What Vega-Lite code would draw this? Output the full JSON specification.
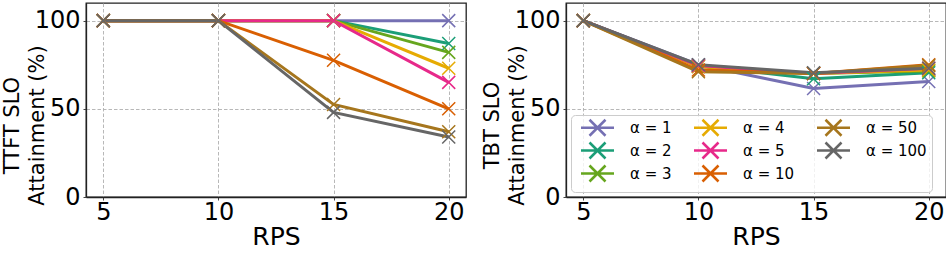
{
  "$schema": "https://vega.github.io/schema/vega-lite/v6.json",
  "padding": {"top": 2, "left": 0, "right": 3, "bottom": 0},
  "background": "white",
  "spacing": 13,
  "config": {
    "font": "DejaVu Sans",
    "view": {"stroke": "#222222", "strokeWidth": 1.3},
    "axis": {
      "domainColor": "#222222", "domainWidth": 1.3,
      "gridColor": "#b0b0b0", "gridDash": [3.5, 2], "gridWidth": 0.9,
      "tickColor": "#444444", "tickSize": 3,
      "labelFont": "DejaVu Sans", "labelFontSize": 24, "labelColor": "#000000",
      "titleFont": "DejaVu Sans", "titleFontWeight": "normal", "titleColor": "#000000"
    },
    "legend": {
      "labelFont": "DejaVu Sans", "labelFontSize": 15, "labelColor": "#000000"
    }
  },
  "datasets": {
    "ttft": [
      {"rps": 5, "alpha": "α = 1", "v": 100}, {"rps": 10, "alpha": "α = 1", "v": 100}, {"rps": 15, "alpha": "α = 1", "v": 100}, {"rps": 20, "alpha": "α = 1", "v": 100},
      {"rps": 5, "alpha": "α = 2", "v": 100}, {"rps": 10, "alpha": "α = 2", "v": 100}, {"rps": 15, "alpha": "α = 2", "v": 100}, {"rps": 20, "alpha": "α = 2", "v": 87},
      {"rps": 5, "alpha": "α = 3", "v": 100}, {"rps": 10, "alpha": "α = 3", "v": 100}, {"rps": 15, "alpha": "α = 3", "v": 100}, {"rps": 20, "alpha": "α = 3", "v": 82},
      {"rps": 5, "alpha": "α = 4", "v": 100}, {"rps": 10, "alpha": "α = 4", "v": 100}, {"rps": 15, "alpha": "α = 4", "v": 100}, {"rps": 20, "alpha": "α = 4", "v": 73},
      {"rps": 5, "alpha": "α = 5", "v": 100}, {"rps": 10, "alpha": "α = 5", "v": 100}, {"rps": 15, "alpha": "α = 5", "v": 100}, {"rps": 20, "alpha": "α = 5", "v": 65},
      {"rps": 5, "alpha": "α = 10", "v": 100}, {"rps": 10, "alpha": "α = 10", "v": 100}, {"rps": 15, "alpha": "α = 10", "v": 77.5}, {"rps": 20, "alpha": "α = 10", "v": 50},
      {"rps": 5, "alpha": "α = 50", "v": 100}, {"rps": 10, "alpha": "α = 50", "v": 100}, {"rps": 15, "alpha": "α = 50", "v": 52.5}, {"rps": 20, "alpha": "α = 50", "v": 37},
      {"rps": 5, "alpha": "α = 100", "v": 100}, {"rps": 10, "alpha": "α = 100", "v": 100}, {"rps": 15, "alpha": "α = 100", "v": 48}, {"rps": 20, "alpha": "α = 100", "v": 34}
    ],
    "tbt": [
      {"rps": 5, "alpha": "α = 1", "v": 100}, {"rps": 10, "alpha": "α = 1", "v": 75}, {"rps": 15, "alpha": "α = 1", "v": 61.5}, {"rps": 20, "alpha": "α = 1", "v": 65.5},
      {"rps": 5, "alpha": "α = 2", "v": 100}, {"rps": 10, "alpha": "α = 2", "v": 74.5}, {"rps": 15, "alpha": "α = 2", "v": 67}, {"rps": 20, "alpha": "α = 2", "v": 70.5},
      {"rps": 5, "alpha": "α = 3", "v": 100}, {"rps": 10, "alpha": "α = 3", "v": 74}, {"rps": 15, "alpha": "α = 3", "v": 70}, {"rps": 20, "alpha": "α = 3", "v": 71.5},
      {"rps": 5, "alpha": "α = 4", "v": 100}, {"rps": 10, "alpha": "α = 4", "v": 74}, {"rps": 15, "alpha": "α = 4", "v": 70}, {"rps": 20, "alpha": "α = 4", "v": 72},
      {"rps": 5, "alpha": "α = 5", "v": 100}, {"rps": 10, "alpha": "α = 5", "v": 74.5}, {"rps": 15, "alpha": "α = 5", "v": 70}, {"rps": 20, "alpha": "α = 5", "v": 73},
      {"rps": 5, "alpha": "α = 10", "v": 100}, {"rps": 10, "alpha": "α = 10", "v": 72}, {"rps": 15, "alpha": "α = 10", "v": 70}, {"rps": 20, "alpha": "α = 10", "v": 75},
      {"rps": 5, "alpha": "α = 50", "v": 100}, {"rps": 10, "alpha": "α = 50", "v": 71}, {"rps": 15, "alpha": "α = 50", "v": 70}, {"rps": 20, "alpha": "α = 50", "v": 74.5},
      {"rps": 5, "alpha": "α = 100", "v": 100}, {"rps": 10, "alpha": "α = 100", "v": 75}, {"rps": 15, "alpha": "α = 100", "v": 70.5}, {"rps": 20, "alpha": "α = 100", "v": 73}
    ]
  },
  "resolve": {"legend": {"color": "independent"}},
  "hconcat": [
    {
      "width": 380, "height": 194,
      "data": {"name": "ttft"},
      "mark": {"type": "line", "strokeWidth": 3, "point": {"shape": "M-1,-1L1,1M-1,1L1,-1", "filled": false, "size": 169, "strokeWidth": 1.5}},
      "encoding": {
        "x": {"field": "rps", "type": "quantitative", "scale": {"domain": [4.25, 20.75], "nice": false, "zero": false},
              "axis": {"values": [5, 10, 15, 20], "title": "RPS", "titleFontSize": 25, "labelPadding": 0, "titlePadding": 0}},
        "y": {"field": "v", "type": "quantitative", "scale": {"domain": [0, 110], "nice": false},
              "axis": {"values": [0, 50, 100], "title": ["TTFT SLO", "Attainment (%)"], "titleFontSize": 21, "titleLineHeight": 25, "labelPadding": 3, "titlePadding": -13, "titleY": 122}},
        "color": {"field": "alpha", "type": "nominal",
                  "scale": {"domain": ["α = 1", "α = 2", "α = 3", "α = 4", "α = 5", "α = 10", "α = 50", "α = 100"],
                            "range": ["#7570b3", "#1b9e77", "#66a61e", "#e6ab02", "#e7298a", "#d95f02", "#a6761d", "#666666"]},
                  "legend": null}
      }
    },
    {
      "width": 380, "height": 194,
      "data": {"name": "tbt"},
      "mark": {"type": "line", "strokeWidth": 3, "point": {"shape": "M-1,-1L1,1M-1,1L1,-1", "filled": false, "size": 169, "strokeWidth": 1.5}},
      "encoding": {
        "x": {"field": "rps", "type": "quantitative", "scale": {"domain": [4.25, 20.75], "nice": false, "zero": false},
              "axis": {"values": [5, 10, 15, 20], "title": "RPS", "titleFontSize": 25, "labelPadding": 0, "titlePadding": 0}},
        "y": {"field": "v", "type": "quantitative", "scale": {"domain": [0, 110], "nice": false},
              "axis": {"values": [0, 50, 100], "title": ["TBT SLO", "Attainment (%)"], "titleFontSize": 21, "titleLineHeight": 25, "labelPadding": 3, "titlePadding": -13, "titleY": 122}},
        "color": {"field": "alpha", "type": "nominal",
                  "scale": {"domain": ["α = 1", "α = 2", "α = 3", "α = 4", "α = 5", "α = 10", "α = 50", "α = 100"],
                            "range": ["#7570b3", "#1b9e77", "#66a61e", "#e6ab02", "#e7298a", "#d95f02", "#a6761d", "#666666"]},
                  "legend": {"title": null, "orient": "none", "legendX": 5, "legendY": 112, "columns": 3,
                             "symbolType": "M-3.3,0L3.3,0M-1.6,-1.6L1.6,1.6M-1.6,1.6L1.6,-1.6", "symbolSize": 100, "symbolStrokeWidth": 2.5,
                             "symbolFillColor": "transparent",
                             "labelOffset": 25, "rowPadding": -4, "columnPadding": 17, "padding": 5, "symbolOffset": 14,
                             "fillColor": "rgba(255,255,255,0.8)", "strokeColor": "#cccccc", "cornerRadius": 4}}
      }
    }
  ]
}
